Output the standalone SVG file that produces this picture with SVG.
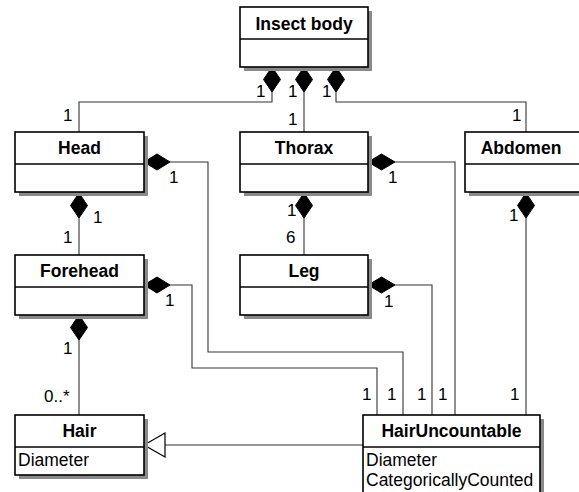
<svg xmlns="http://www.w3.org/2000/svg" width="579" height="492" viewBox="0 0 579 492">
<style>
.shadow{fill:#8a8a8a}
.box{fill:#fff;stroke:#000;stroke-width:1.6}
.div{stroke:#000;stroke-width:1.6}
.title{font-family:"Liberation Sans",Arial,sans-serif;font-weight:bold;font-size:17.5px;text-anchor:middle;fill:#000}
.attr{font-family:"Liberation Sans",Arial,sans-serif;font-size:17.5px;fill:#000}
.lbl{font-family:"Liberation Sans",Arial,sans-serif;font-size:17px;fill:#000}
.conn{fill:none;stroke:#333;stroke-width:1.1}
.dia{fill:#000;stroke:#000;stroke-width:1}
.tri{fill:#fff;stroke:#000;stroke-width:1.2}
</style>
<rect width="579" height="492" fill="#fff"/>
<g id="connectors">
<path class="conn" d="M272,92 V102 H79 V132"/>
<path class="conn" d="M304,92 V132"/>
<path class="conn" d="M336,92 V102 H526 V132"/>
<path class="conn" d="M79,218 V255"/>
<path class="conn" d="M304,218 V255"/>
<path class="conn" d="M79,340 V415"/>
<path class="conn" d="M170,162 H208 V352 H403 V415"/>
<path class="conn" d="M170,285 H192 V368 H377 V415"/>
<path class="conn" d="M395,162 H455 V415"/>
<path class="conn" d="M395,285 H432 V415"/>
<path class="conn" d="M526,218 V415"/>
<path class="conn" d="M363,445 H165"/>
<polygon class="dia" points="272,67 280.5,79.5 272,92 263.5,79.5"/>
<polygon class="dia" points="304,67 312.5,79.5 304,92 295.5,79.5"/>
<polygon class="dia" points="336,67 344.5,79.5 336,92 327.5,79.5"/>
<polygon class="dia" points="79,193 87.5,205.5 79,218 70.5,205.5"/>
<polygon class="dia" points="304,193 312.5,205.5 304,218 295.5,205.5"/>
<polygon class="dia" points="526,193 534.5,205.5 526,218 517.5,205.5"/>
<polygon class="dia" points="79,315 87.5,327.5 79,340 70.5,327.5"/>
<polygon class="dia" points="144,162 157,154 170,162 157,170"/>
<polygon class="dia" points="368,162 381.5,154 395,162 381.5,170"/>
<polygon class="dia" points="144,285 157,277 170,285 157,293"/>
<polygon class="dia" points="368,285 381.5,277 395,285 381.5,293"/>
<polygon class="tri" points="144,445 165,433 165,457"/>
<text class="lbl" x="63" y="121">1</text>
<text class="lbl" x="256" y="97">1</text>
<text class="lbl" x="288" y="97">1</text>
<text class="lbl" x="322" y="97">1</text>
<text class="lbl" x="288" y="125">1</text>
<text class="lbl" x="512" y="121">1</text>
<text class="lbl" x="169" y="183">1</text>
<text class="lbl" x="388" y="183">1</text>
<text class="lbl" x="93" y="223">1</text>
<text class="lbl" x="63" y="243">1</text>
<text class="lbl" x="287" y="216">1</text>
<text class="lbl" x="286" y="243">6</text>
<text class="lbl" x="509" y="221">1</text>
<text class="lbl" x="165" y="306">1</text>
<text class="lbl" x="384" y="307">1</text>
<text class="lbl" x="63" y="354">1</text>
<text class="lbl" x="44" y="402">0..*</text>
<text class="lbl" x="362" y="400">1</text>
<text class="lbl" x="387" y="400">1</text>
<text class="lbl" x="417" y="400">1</text>
<text class="lbl" x="438" y="400">1</text>
<text class="lbl" x="510" y="400">1</text>
</g>
<g id="insect-body">
<rect class="shadow" x="244" y="11" width="128" height="60"/>
<rect class="box" x="240" y="7" width="128" height="60"/>
<line class="div" x1="240" y1="39" x2="368" y2="39"/>
<text class="title" x="304" y="30">Insect body</text>
</g>
<g id="head">
<rect class="shadow" x="19" y="136" width="129" height="60"/>
<rect class="box" x="15" y="132" width="129" height="60"/>
<line class="div" x1="15" y1="164" x2="144" y2="164"/>
<text class="title" x="79.5" y="154">Head</text>
</g>
<g id="thorax">
<rect class="shadow" x="244" y="136" width="128" height="60"/>
<rect class="box" x="240" y="132" width="128" height="60"/>
<line class="div" x1="240" y1="164" x2="368" y2="164"/>
<text class="title" x="304" y="154">Thorax</text>
</g>
<g id="abdomen">
<rect class="shadow" x="469" y="136" width="128" height="60"/>
<rect class="box" x="465" y="132" width="128" height="60"/>
<line class="div" x1="465" y1="164" x2="593" y2="164"/>
<text class="title" x="521" y="154">Abdomen</text>
</g>
<g id="forehead">
<rect class="shadow" x="19" y="259" width="129" height="60"/>
<rect class="box" x="15" y="255" width="129" height="60"/>
<line class="div" x1="15" y1="287" x2="144" y2="287"/>
<text class="title" x="79.5" y="277">Forehead</text>
</g>
<g id="leg">
<rect class="shadow" x="244" y="259" width="128" height="60"/>
<rect class="box" x="240" y="255" width="128" height="60"/>
<line class="div" x1="240" y1="287" x2="368" y2="287"/>
<text class="title" x="304" y="277">Leg</text>
</g>
<g id="hair">
<rect class="shadow" x="19" y="419" width="129" height="60"/>
<rect class="box" x="15" y="415" width="129" height="60"/>
<line class="div" x1="15" y1="447" x2="144" y2="447"/>
<text class="title" x="79.5" y="437">Hair</text>
<text class="attr" x="18" y="466">Diameter</text>
</g>
<g id="hair-uncountable">
<rect class="shadow" x="367" y="419" width="177" height="90"/>
<rect class="box" x="363" y="415" width="177" height="90"/>
<line class="div" x1="363" y1="447" x2="540" y2="447"/>
<text class="title" x="451.5" y="437">HairUncountable</text>
<text class="attr" x="366" y="466">Diameter</text>
<text class="attr" x="366" y="486">CategoricallyCounted</text>
</g>
</svg>
